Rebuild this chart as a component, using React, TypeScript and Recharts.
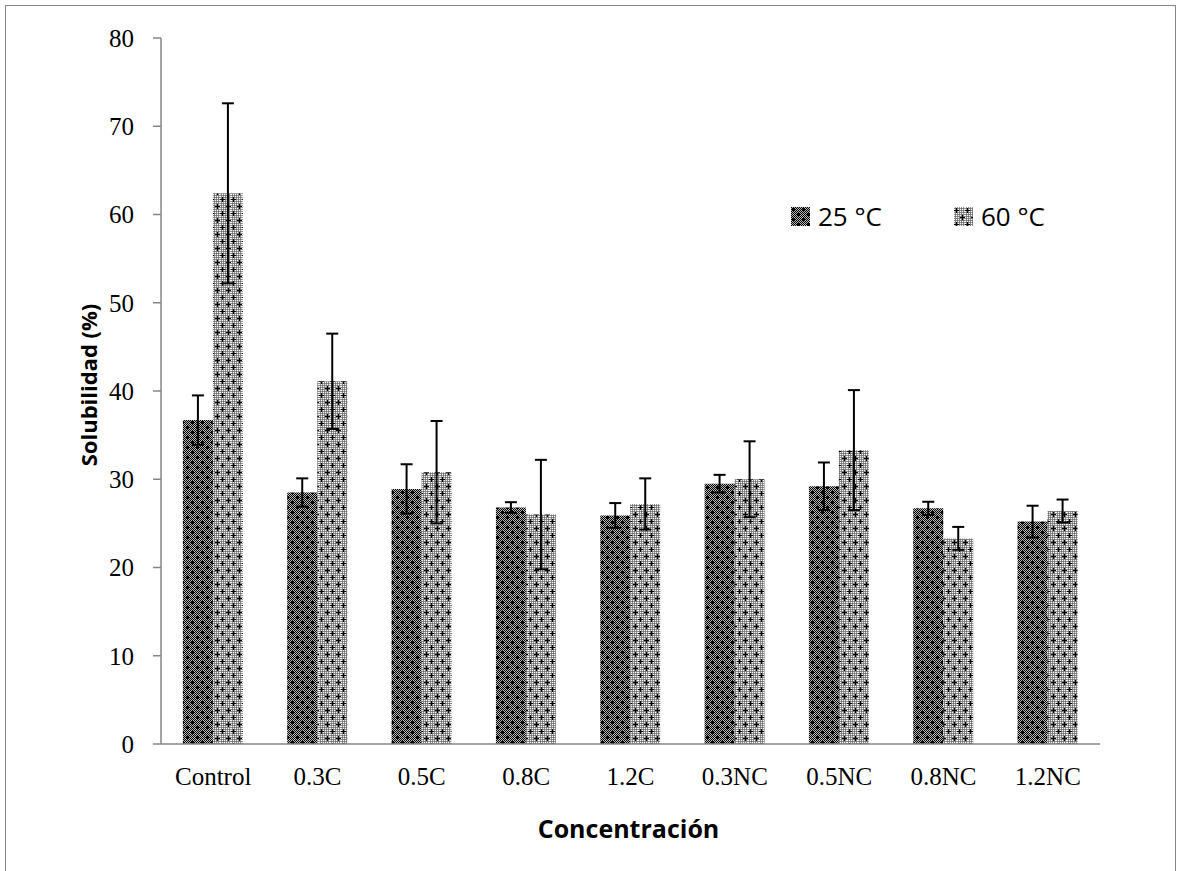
import React from 'react';
import { BarChart, Bar, XAxis, YAxis, ErrorBar, Label } from 'recharts';

// Solubilidad (%) por concentración, a 25 °C y 60 °C
const categories = ['Control', '0.3C', '0.5C', '0.8C', '1.2C', '0.3NC', '0.5NC', '0.8NC', '1.2NC'];
const sol25 = [36.7, 28.5, 28.9, 26.8, 25.9, 29.5, 29.2, 26.7, 25.2];
const err25 = [2.8, 1.6, 2.8, 0.6, 1.4, 1.0, 2.7, 0.75, 1.8];
const sol60 = [62.4, 41.1, 30.8, 26.0, 27.2, 30.0, 33.3, 23.3, 26.4];
const err60 = [10.2, 5.4, 5.8, 6.2, 2.9, 4.3, 6.8, 1.3, 1.3];
const yTicks = [0, 10, 20, 30, 40, 50, 60, 70, 80];
const seriesNames = ['25 °C', '60 °C'];

const data = categories.map((name, i) => ({
    name,
    t25: sol25[i],
    e25: err25[i],
    t60: sol60[i],
    e60: err60[i],
}));

const SERIF = '"Liberation Serif", "Times New Roman", serif';
const SANS = '"Open Sans", "Noto Sans", sans-serif';
const AXIS = '#868686';

const Patterns = () => (
    <defs>
        <pattern id="chkDark" width="2" height="2" patternUnits="userSpaceOnUse">
            <rect width="2" height="2" fill="#b4b4b4" />
            <rect x="0" y="0" width="1" height="1" fill="#000" />
            <rect x="1" y="1" width="1" height="1" fill="#000" />
        </pattern>
        <pattern id="chkLight" width="2" height="2" patternUnits="userSpaceOnUse">
            <rect width="2" height="2" fill="#8e8e8e" />
            <rect x="0" y="0" width="1" height="1" fill="#f4f4f4" />
            <rect x="1" y="1" width="1" height="1" fill="#707070" />
        </pattern>
        <pattern id="pat25" width="10" height="10" patternUnits="userSpaceOnUse">
            <rect width="10" height="10" fill="url(#chkDark)" />
            <path d="M2 0h1v2h2v1h-2v2h-1v-2h-2v-1h2z" fill="#000" />
            <path d="M7 5h1v2h2v1h-2v2h-1v-2h-2v-1h2z" fill="#000" />
            <rect x="1" y="1" width="3" height="3" fill="#000" />
            <rect x="6" y="6" width="3" height="3" fill="#000" />
        </pattern>
        <pattern id="pat60" width="11" height="14" patternUnits="userSpaceOnUse">
            <rect width="11" height="14" fill="url(#chkLight)" />
            <path d="M2 1h1v2h2v1h-2v2h-1v-2h-2v-1h2z" fill="#000" />
            <path d="M8 8h1v2h2v1h-2v2h-1v-2h-2v-1h2z" fill="#000" />
        </pattern>
    </defs>
);

const LegendBox = () => (
    <div style={{ display: 'flex', alignItems: 'center', fontFamily: SANS, fontSize: 26, color: '#000', lineHeight: '36px' }}>
        {seriesNames.map((n, i) => (
            <div key={n} style={{ display: 'flex', alignItems: 'center', marginRight: i === 0 ? 72 : 0 }}>
                <svg width={19} height={19} style={{ marginRight: 8 }}>
                    <rect width={19} height={19} fill={i === 0 ? 'url(#pat25)' : 'url(#pat60)'} />
                </svg>
                <span>{n}</span>
            </div>
        ))}
    </div>
);

const App: React.FC = () => {
    return (
        <div style={{ position: 'absolute', left: 0, top: 0, width: 1180, height: 871, overflow: 'hidden', background: '#fff' }}>
            <div style={{ position: 'absolute', left: 5, top: 5, width: 1169, height: 900, border: `1px solid ${AXIS}` }} />
            <div style={{ position: 'absolute', left: 0, top: 0 }}>
                <BarChart
                    width={1180}
                    height={871}
                    data={data}
                    margin={{ top: 38, right: 80, bottom: 87, left: 101 }}
                    barCategoryGap="21%"
                    barGap={0}
                >
                    <Patterns />
                    <XAxis
                        dataKey="name"
                        height={40}
                        axisLine={{ stroke: AXIS, strokeWidth: 1.5 }}
                        tickLine={false}
                        tickSize={0}
                        tickMargin={23}
                        tick={{ fill: '#000', fontFamily: SERIF, fontSize: 25 }}
                        interval={0}
                    >
                        <Label
                            content={({ viewBox }: any) => (
                                <text
                                    x={viewBox.x + viewBox.width / 2 - 2}
                                    y={viewBox.y + 84}
                                    textAnchor="middle"
                                    dominantBaseline="central"
                                    fontFamily={SANS}
                                    fontWeight="bold"
                                    fontSize={25}
                                    fill="#000"
                                >
                                    Concentración
                                </text>
                            )}
                        />
                    </XAxis>
                    <YAxis
                        width={60}
                        domain={[0, 80]}
                        ticks={yTicks}
                        interval={0}
                        axisLine={{ stroke: AXIS, strokeWidth: 1.5 }}
                        tickLine={{ stroke: AXIS, strokeWidth: 1.5 }}
                        tickSize={8}
                        tickMargin={19}
                        tick={{ fill: '#000', fontFamily: SERIF, fontSize: 25 }}
                    >
                        <Label
                            content={({ viewBox }: any) => {
                                const cx = viewBox.x - 13;
                                const cy = viewBox.y + viewBox.height / 2 - 6;
                                return (
                                    <text
                                        x={cx}
                                        y={cy}
                                        transform={`rotate(-90 ${cx} ${cy})`}
                                        textAnchor="middle"
                                        dominantBaseline="central"
                                        fontFamily={SANS}
                                        fontWeight="bold"
                                        fontSize={22}
                                        fill="#000"
                                    >
                                        Solubilidad (%)
                                    </text>
                                );
                            }}
                        />
                    </YAxis>
                    <Bar dataKey="t25" name={seriesNames[0]} fill="url(#pat25)" isAnimationActive={false}>
                        <ErrorBar dataKey="e25" width={6} strokeWidth={2} stroke="#000" />
                    </Bar>
                    <Bar dataKey="t60" name={seriesNames[1]} fill="url(#pat60)" isAnimationActive={false}>
                        <ErrorBar dataKey="e60" width={6} strokeWidth={2} stroke="#000" />
                    </Bar>
                </BarChart>
            </div>
            <div style={{ position: 'absolute', left: 791, top: 198 }}>
                <LegendBox />
            </div>
        </div>
    );
};

export default App;
